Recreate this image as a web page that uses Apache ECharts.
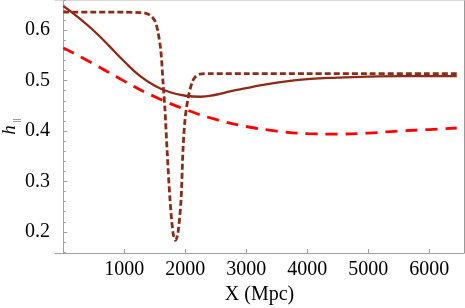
<!DOCTYPE html>
<html>
<head>
<meta charset="utf-8">
<script src="https://cdn.jsdelivr.net/npm/echarts@6/dist/echarts.min.js"></script>
<style>html,body{margin:0;padding:0;background:#fff}#c{width:465px;height:308px}</style>
</head>
<body>
<div id="c"></div>
<script>
// Solid curve
var xSolid = [0, 250, 500, 750, 1000, 1250, 1500, 1750, 2000, 2250, 2500, 2750, 3000, 3250, 3500, 3750, 4000, 4500, 5000, 5500, 6000, 6450];
var ySolid = [0.648, 0.625, 0.599, 0.569, 0.538, 0.510, 0.490, 0.477, 0.470, 0.468, 0.472, 0.479, 0.485, 0.491, 0.496, 0.500, 0.503, 0.506, 0.508, 0.509, 0.509, 0.509];
// Short-dashed dark curve with dip
var xDip = [0, 500, 1000, 1250, 1340, 1420, 1500, 1550, 1600, 1635, 1667, 1700, 1750, 1800, 1840, 1880, 1930, 1962, 1995, 2045, 2110, 2160, 2240, 2400, 3000, 4000, 5000, 6000, 6450];
var yDip = [0.636, 0.636, 0.636, 0.635, 0.634, 0.630, 0.619, 0.598, 0.558, 0.497, 0.442, 0.365, 0.263, 0.197, 0.183, 0.198, 0.263, 0.362, 0.422, 0.465, 0.496, 0.507, 0.513, 0.514, 0.514, 0.514, 0.514, 0.514, 0.514];
// Long-dashed red curve
var xRed = [0, 500, 1000, 1500, 2000, 2500, 3000, 3500, 4000, 4500, 5000, 5500, 6000, 6450];
var yRed = [0.565, 0.533, 0.499, 0.468, 0.443, 0.423, 0.409, 0.400, 0.395, 0.394, 0.396, 0.400, 0.403, 0.406];
// Tick labels
var xTicks = [1000, 2000, 3000, 4000, 5000, 6000];
var yTicks = [0.2, 0.3, 0.4, 0.5, 0.6];
var yMinor = [0.16, 0.18, 0.22, 0.24, 0.26, 0.28, 0.32, 0.34, 0.36, 0.38, 0.42, 0.44, 0.46, 0.48, 0.52, 0.54, 0.56, 0.58, 0.62, 0.64, 0.66];

function pairs(xs, ys) { return xs.map(function (x, i) { return [x, ys[i]]; }); }

var FONT = 'Liberation Serif';
var AX = '#a0a0a0';
var DARK = '#8e2a18';
var chart = echarts.init(document.getElementById('c'), null, { renderer: 'canvas' });
chart.setOption({
  animation: false,
  grid: { left: 55, right: 1, top: 0, bottom: 55, outerBoundsMode: 'none', containLabel: false },
  graphic: [{
    type: 'text', x: 10, y: 130, rotation: Math.PI / 2,
    style: { text: 'h', fontFamily: FONT, fontStyle: 'italic', fontSize: 19, fill: '#000',
      align: 'center', verticalAlign: 'middle' }
  }, {
    type: 'text', x: 17, y: 120.5, rotation: Math.PI / 2,
    style: { text: '||', fontFamily: FONT, fontSize: 8, fill: '#000',
      align: 'center', verticalAlign: 'middle' }
  }],
  xAxis: [{
    type: 'value', min: -136, max: 6569,
    name: 'X (Mpc)', nameLocation: 'middle', nameGap: 32,
    nameTextStyle: { fontFamily: FONT, fontSize: 20, color: '#000' },
    axisLine: { lineStyle: { color: AX } },
    axisTick: { inside: true, length: 4, customValues: xTicks, lineStyle: { color: AX } },
    axisLabel: { customValues: xTicks, fontFamily: FONT, fontSize: 20, color: '#000', margin: 7,
      formatter: function (v) { return String(Math.round(v)); } },
    splitLine: { show: false }
  }, {
    type: 'value', position: 'top', min: -136, max: 6569,
    axisLine: { show: true, lineStyle: { color: '#d8d8d8' } },
    axisTick: { show: false }, axisLabel: { show: false }, splitLine: { show: false }
  }],
  yAxis: [{
    type: 'value', min: 0.158, max: 0.66,
    axisLine: { show: true, lineStyle: { color: AX } },
    axisTick: { inside: true, length: 4, customValues: yTicks, lineStyle: { color: AX } },
    axisLabel: { customValues: yTicks, fontFamily: FONT, fontSize: 20, color: '#000', margin: 5,
      formatter: function (v) { return v.toFixed(1); } },
    splitLine: { show: false }
  }, {
    type: 'value', position: 'left', min: 0.158, max: 0.66,
    axisLine: { show: false },
    axisTick: { show: true, inside: true, length: 2.5, customValues: yMinor, lineStyle: { color: AX } },
    axisLabel: { show: false }, splitLine: { show: false }
  }, {
    type: 'value', position: 'right', min: 0.158, max: 0.66,
    axisLine: { show: true, lineStyle: { color: '#999' } },
    axisTick: { show: false }, axisLabel: { show: false }, splitLine: { show: false }
  }],
  series: [{
    type: 'line', data: pairs(xRed, yRed), smooth: true, symbol: 'none',
    lineStyle: { color: '#ff0000', width: 2.8, type: [12, 8] }
  }, {
    type: 'line', data: pairs(xSolid, ySolid), smooth: true, symbol: 'none',
    lineStyle: { color: DARK, width: 2.3 }
  }, {
    type: 'line', data: pairs(xDip, yDip), smooth: 0.3, symbol: 'none',
    lineStyle: { color: DARK, width: 2.8, type: [6, 3] }
  }]
});
</script>
</body>
</html>
